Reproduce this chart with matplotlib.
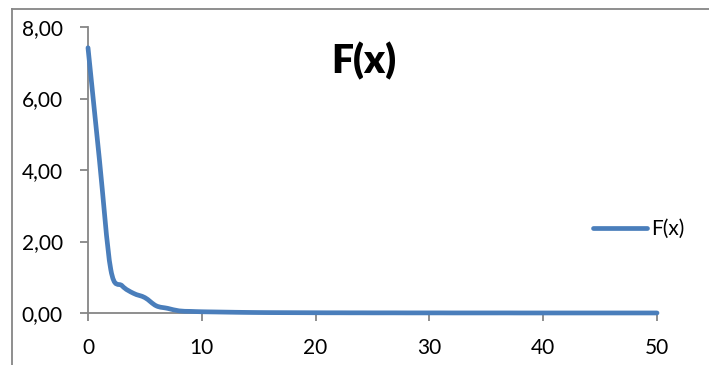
import matplotlib.pyplot as plt
from matplotlib.lines import Line2D
from matplotlib.path import Path
from matplotlib.patches import PathPatch
from matplotlib.ticker import FixedLocator, FuncFormatter

# data
x_vals = list(range(51))
y_vals = [7.42, 4.30, 1.22, 0.76, 0.55, 0.43, 0.20, 0.13, 0.06, 0.045,
          0.035, 0.03, 0.025, 0.02, 0.016, 0.013, 0.011, 0.01, 0.009, 0.008,
          0.007, 0.006, 0.006, 0.005, 0.005, 0.004, 0.004, 0.004, 0.003, 0.003,
          0.003, 0.003, 0.002, 0.002, 0.002, 0.002, 0.002, 0.002, 0.001, 0.001,
          0.001, 0.001, 0.001, 0.001, 0.001, 0.001, 0.001, 0.001, 0.001, 0.001,
          0.001]
series_name = "F(x)"
x_ticks = [0, 10, 20, 30, 40, 50]
y_ticks = [0, 2, 4, 6, 8]

plt.rcParams['font.family'] = ['Lato', 'DejaVu Sans']

line_color = '#4a7ebb'
axis_color = '#868686'
line_w = 3.4


def smooth_path(xs, ys):
    # Excel style smoothed line: cubic bezier through every point
    pts = list(zip(xs, ys))
    verts = [pts[0]]
    codes = [Path.MOVETO]
    n = len(pts)
    for i in range(n - 1):
        p0 = pts[max(i - 1, 0)]
        p1 = pts[i]
        p2 = pts[i + 1]
        p3 = pts[min(i + 2, n - 1)]
        c1 = (p1[0] + (p2[0] - p0[0]) / 6, p1[1] + (p2[1] - p0[1]) / 6)
        c2 = (p2[0] - (p3[0] - p1[0]) / 6, p2[1] - (p3[1] - p1[1]) / 6)
        verts += [c1, c2, p2]
        codes += [Path.CURVE4] * 3
    return Path(verts, codes)


fig = plt.figure(figsize=(7.09, 3.65), dpi=100)
ax = fig.add_axes([88 / 709, 1 - 313 / 365, (657 - 88) / 709, (313 - 27) / 365])

curve = PathPatch(smooth_path(x_vals, y_vals), facecolor='none', edgecolor=line_color,
                  lw=line_w, joinstyle='round', capstyle='round', clip_on=False, zorder=3)
ax.add_patch(curve)

ax.set_xlim(0, 50)
ax.set_ylim(0, 8)
ax.xaxis.set_major_locator(FixedLocator(x_ticks))
ax.yaxis.set_major_locator(FixedLocator(y_ticks))
ax.yaxis.set_major_formatter(FuncFormatter(lambda v, p: f"{v:.2f}".replace('.', ',')))

for s in ['top', 'right']:
    ax.spines[s].set_visible(False)
for s in ['left', 'bottom']:
    ax.spines[s].set_color(axis_color)
    ax.spines[s].set_linewidth(1.3)

ax.tick_params(axis='both', direction='out', length=6, width=1.3,
               color=axis_color, labelsize=15, labelcolor='black')
ax.tick_params(axis='y', pad=12)
ax.tick_params(axis='x', pad=12)

fig.text(364 / 709, 1 - 61 / 365, "F(x)", fontsize=28, fontweight='heavy',
         ha='center', va='center')

handle = Line2D([], [], color=line_color, lw=line_w, solid_capstyle='round')
ax.legend([handle], [series_name], loc='center left',
          bbox_to_anchor=(593 / 709, 1 - 229 / 365),
          bbox_transform=fig.transFigure, frameon=False, fontsize=15,
          handlelength=2.6, handletextpad=0.2, borderpad=0, borderaxespad=0)

# chart area border (only top and left edges are visible)
fig.add_artist(Line2D([12 / 709, 1.0], [1 - 9 / 365, 1 - 9 / 365],
                      transform=fig.transFigure, color=axis_color, lw=1.3))
fig.add_artist(Line2D([12 / 709, 12 / 709], [0, 1 - 9 / 365],
                      transform=fig.transFigure, color=axis_color, lw=1.3))

fig.savefig("out.png", dpi=100)
